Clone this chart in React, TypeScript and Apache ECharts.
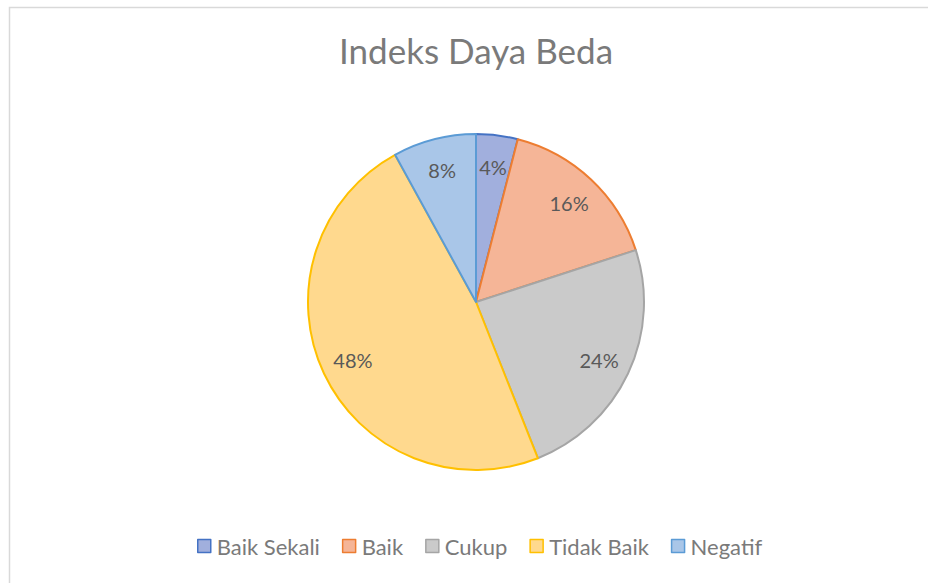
import React, { useEffect, useRef } from "react";
import * as echarts from "echarts";

const categories = ["Baik Sekali", "Baik", "Cukup", "Tidak Baik", "Negatif"];
const values = [4, 16, 24, 48, 8];
const fills = ["#A1AFDD", "#F5B597", "#CACACA", "#FFD98E", "#A9C6E8"];
const borders = ["#4472C4", "#ED7D31", "#A5A5A5", "#FFC000", "#5B9BD5"];
const titleText = "Indeks Daya Beda";

const FONT = "Lato, 'Open Sans', sans-serif";

export default function App() {
  const ref = useRef<HTMLDivElement>(null);
  useEffect(() => {
    if (!ref.current) return;
    const chart = echarts.init(ref.current, undefined, { renderer: "svg" });
    const data = categories.map((name, i) => ({
      name,
      value: values[i],
      itemStyle: { color: fills[i], borderColor: borders[i], borderWidth: 2 },
    }));
    const labelData = categories.map((name, i) => ({ name, value: values[i] }));
    chart.setOption({
      animation: false,
      backgroundColor: "#ffffff",
      title: {
        text: titleText,
        left: 334,
        top: 27,
        textStyle: { fontFamily: FONT, fontSize: 35, fontWeight: "normal", color: "#7A7A7A" },
      },
      legend: {
        bottom: 21,
        left: 192,
        icon: "rect",
        itemWidth: 13,
        itemHeight: 13,
        itemGap: 22,
        selectedMode: false,
        textStyle: { fontFamily: FONT, fontSize: 22, color: "#7A7A7A", padding: [0, 0, 0, 1] },
        data: categories.map((name, i) => ({
          name,
          itemStyle: { color: fills[i], borderColor: borders[i], borderWidth: 1.5 },
        })),
      },
      graphic: [
        {
          type: "rect",
          shape: { x: 9.5, y: 7.5, width: 940, height: 600 },
          style: { fill: "none", stroke: "#D9D9D9", lineWidth: 1.5 },
          silent: true,
        },
      ],
      series: [
        {
          type: "pie",
          center: [476, 302],
          radius: [0, 168],
          startAngle: 90,
          clockwise: true,
          label: { show: false },
          labelLine: { show: false },
          emphasis: { disabled: true },
          data,
        },
        {
          type: "pie",
          center: [476, 302],
          radius: [98, 168],
          startAngle: 90,
          clockwise: true,
          silent: true,
          itemStyle: { color: "transparent", borderWidth: 0 },
          label: {
            show: true,
            position: "inside",
            formatter: "{c}%",
            fontFamily: FONT,
            fontSize: 20,
            color: "#595959",
          },
          labelLine: { show: false },
          emphasis: { disabled: true },
          data: labelData,
        },
      ],
    });
    return () => chart.dispose();
  }, []);
  return (
    <div
      ref={ref}
      style={{ position: "absolute", left: 0, top: 0, width: 928, height: 583 }}
    />
  );
}
